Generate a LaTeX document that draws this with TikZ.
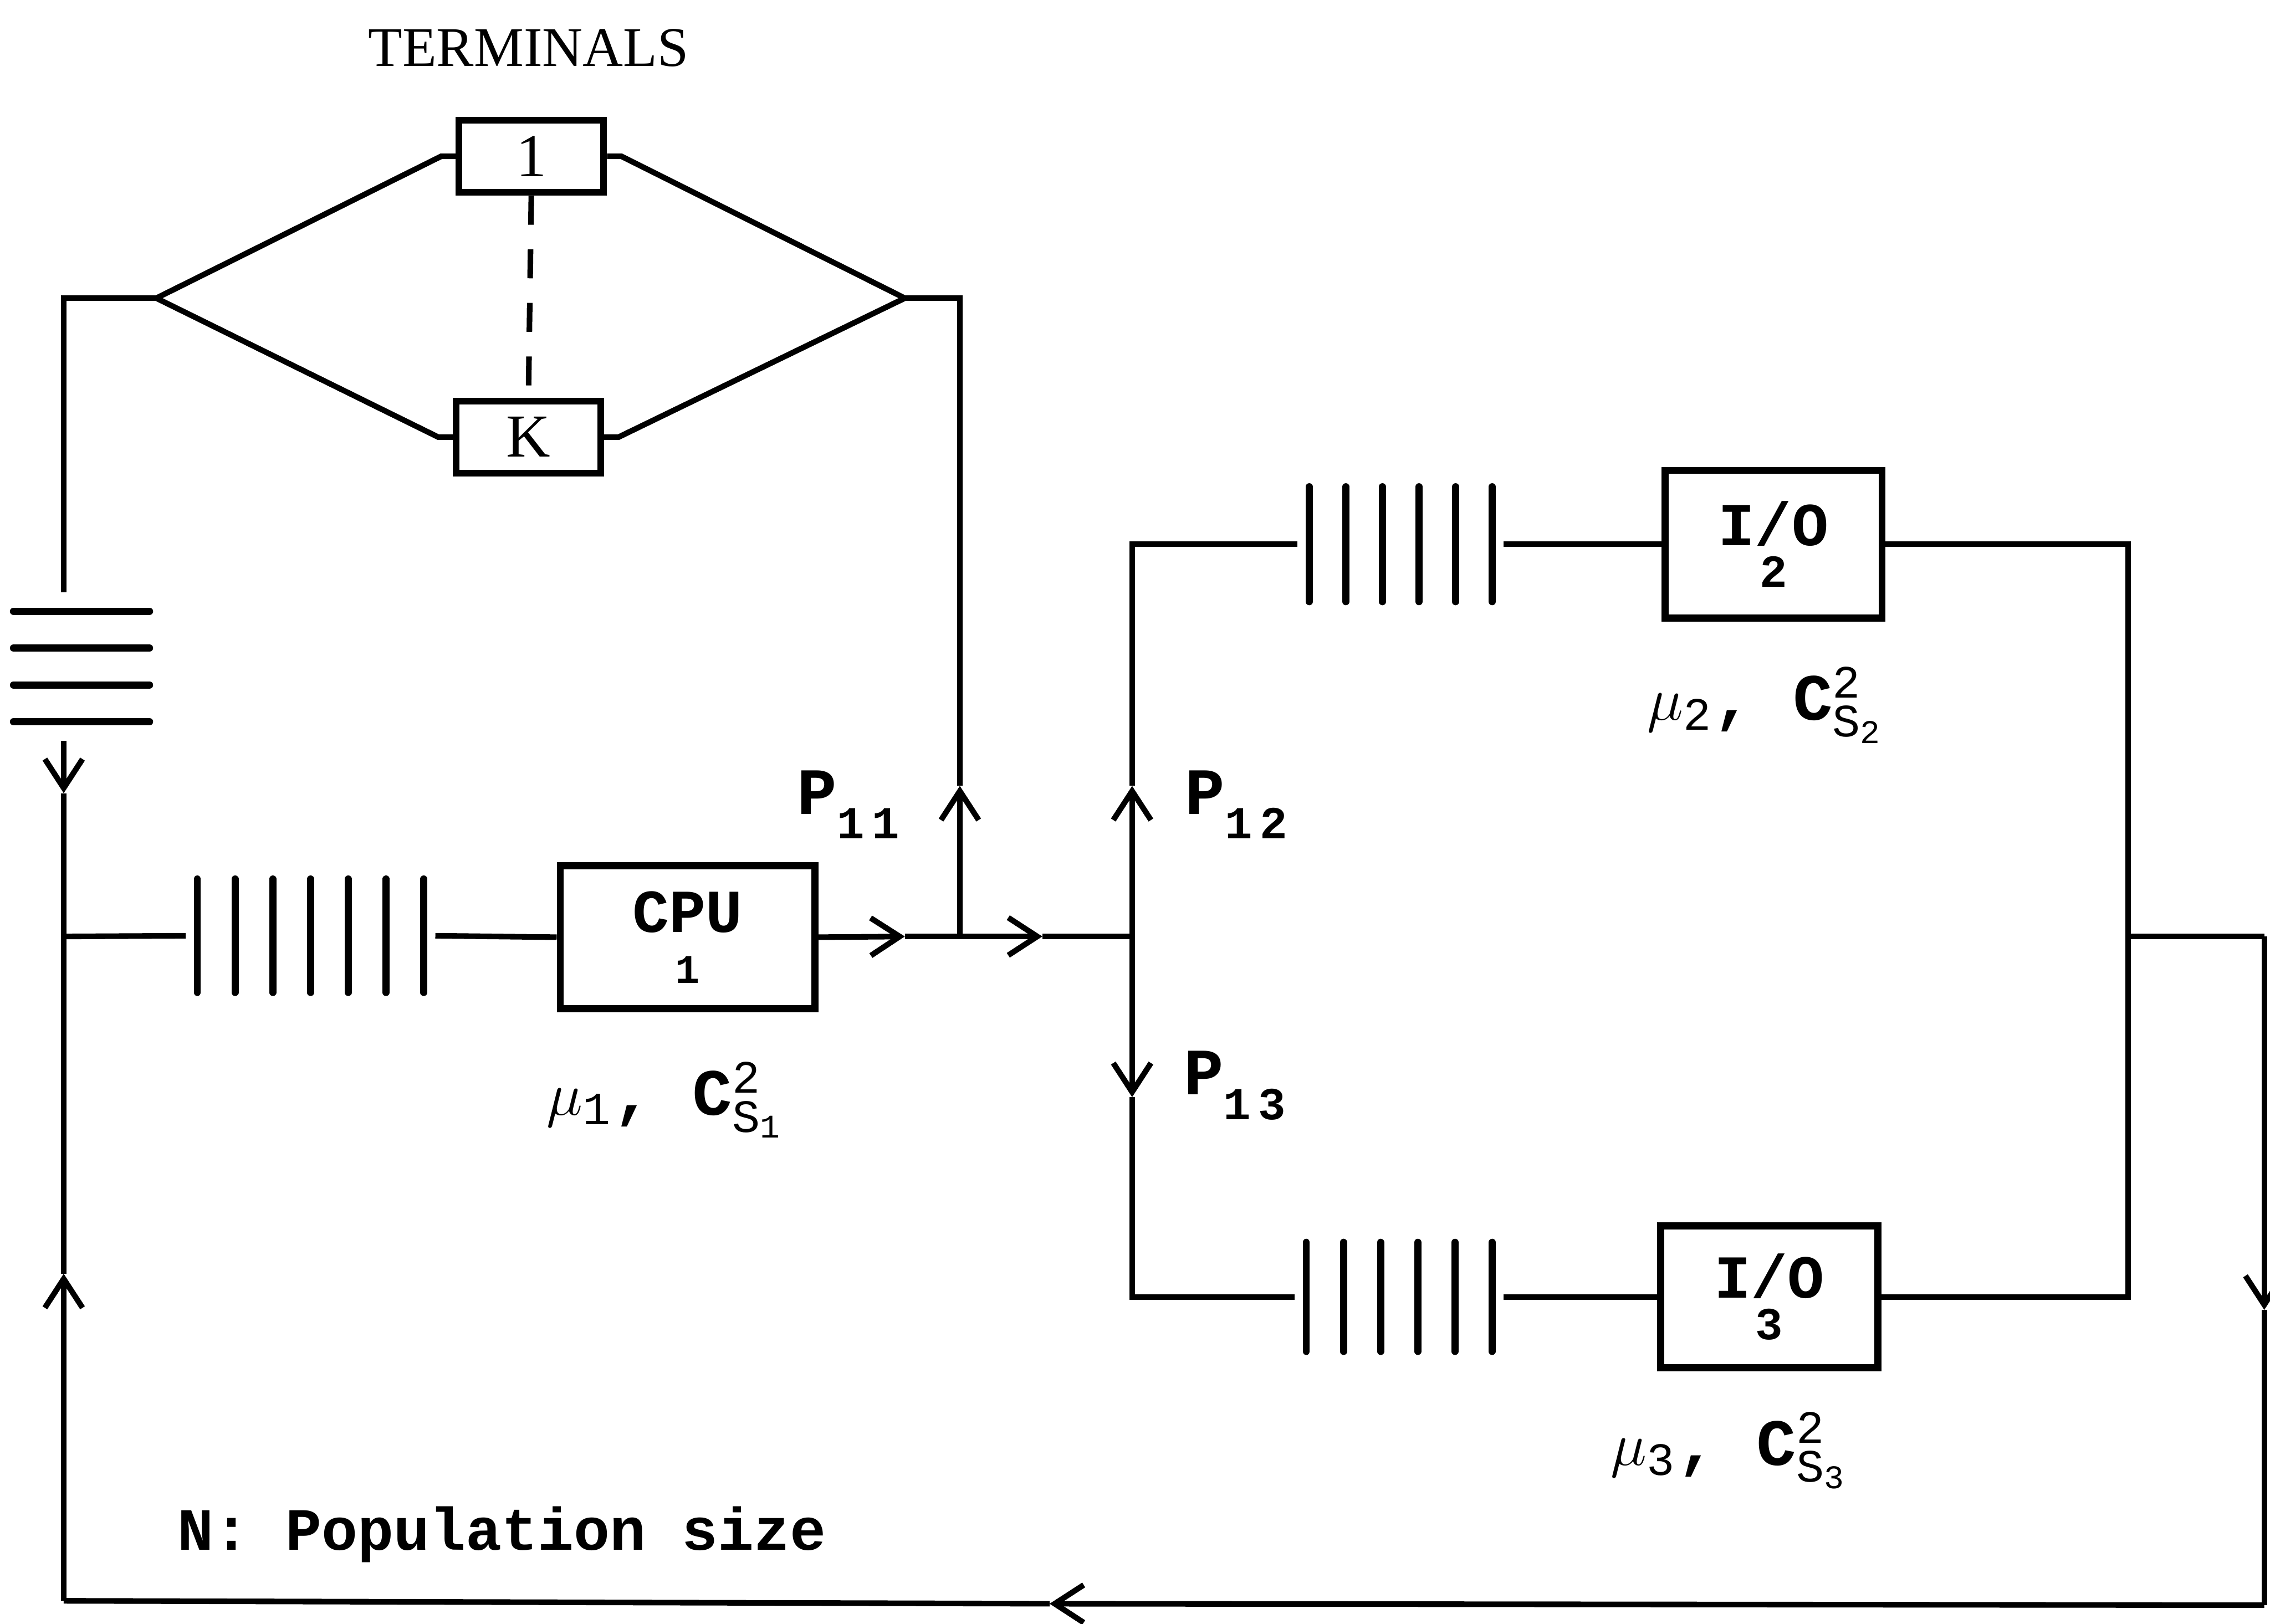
\documentclass[tikz,border=0pt]{standalone}
\usepackage{fontspec}
\setmainfont{Liberation Serif}
\setmonofont{Liberation Mono}
\usetikzlibrary{arrows.meta, calc}

\tikzset{
  wire/.style={line width=1.1pt},
  bar/.style={line width=1.4pt, line cap=round},
  flow/.style={wire, -{Straight Barb[length=2mm, width=2.6mm]}},
  term/.style={draw, line width=1.3pt, minimum width=1cm, minimum height=0.5cm,
      inner sep=0pt, font=\fontsize{12}{12}\selectfont},
  srv/.style={draw, line width=1.4pt, inner sep=0pt, align=center,
      font=\ttfamily\bfseries\fontsize{12}{12}\selectfont},
  queue/.style={inner sep=0pt},
  lbl/.style={font=\ttfamily\bfseries\fontsize{13}{13}\selectfont, inner sep=0pt},
}

% vertical bars of a waiting line: node name, number of gaps
\newcommand{\vbars}[2]{%
  \foreach \i in {0,...,#2}
    \draw[bar] ($([xshift=0.8mm]#1.north west)!\i/#2!([xshift=-0.8mm]#1.north east)$)
      -- ($([xshift=0.8mm]#1.south west)!\i/#2!([xshift=-0.8mm]#1.south east)$);}
% service rate and variation of a station
\newcommand{\rates}[1]{$\mu_{\mathtt{#1}}$, C$^{\mathtt{2}}_{\mathtt{S}_{\mathtt{#1}}}$}

\begin{document}
\begin{tikzpicture}
  \useasboundingbox (0,0) rectangle (15.68,11.22);

  % --- fixed points of the network ---
  \coordinate (L) at (1.08,9.16);
  \coordinate (R) at (6.25,9.16);
  \coordinate (m0) at (0.44,4.75);
  \coordinate (a0d) at (0.44,5.74);
  \coordinate (a0u) at (0.44,2.42);
  \coordinate (b1) at (0.44,0.16);
  \coordinate (a1) at (6.25,4.75);
  \coordinate (j1) at (6.63,4.75);
  \coordinate (a11) at (6.63,5.79);
  \coordinate (a2) at (7.20,4.75);
  \coordinate (j2) at (7.82,4.75);
  \coordinate (a12) at (7.82,5.79);
  \coordinate (a13) at (7.82,3.64);
  \coordinate (j3) at (14.70,4.75);
  \coordinate (c3) at (15.64,4.75);
  \coordinate (a3) at (15.64,2.17);
  \coordinate (c4) at (15.64,0.13);
  \coordinate (a4) at (7.25,0.14);

  % --- terminals ---
  \node[font=\fontsize{11}{11}\selectfont] (ttl) at (3.65,10.89) {TERMINALS};
  \node[term] (t1) at (3.67,10.14) {1};
  \node[term] (tK) at (3.65,8.20) {K};
  \draw[wire, dash pattern=on 2mm off 1.7mm] (t1.south) -- (tK.north);
  \draw[wire] (L) -- ([xshift=-1mm]t1.west) -- (t1.west);
  \draw[wire] (L) -- ([xshift=-1mm]tK.west) -- (tK.west);
  \draw[wire] (t1.east) -- ([xshift=1mm]t1.east) -- (R);
  \draw[wire] (tK.east) -- ([xshift=1mm]tK.east) -- (R);

  % --- think queue of the terminals ---
  \node[queue, minimum width=0.94cm, minimum height=1.01cm] (tq) at (0.57,6.615) {};
  \foreach \i in {0,...,3}
    \draw[bar] ($([yshift=-1.3mm]tq.north west)!\i/3!([yshift=1.3mm]tq.south west)$) -- ++(0.94,0);
  \draw[wire] (tq.north -| m0) |- (L);
  \draw[flow] (tq.south -| m0) -- (a0d);
  \draw[wire] (a0d) -- (m0);
  \draw[flow] (b1) -- (a0u);
  \draw[wire] (a0u) -- (m0);

  % --- CPU ---
  \node[queue, minimum width=1.71cm, minimum height=0.77cm] (q1) at (2.145,4.755) {};
  \vbars{q1}{6}
  \node[srv, minimum width=1.76cm, minimum height=0.99cm] (cpu) at (4.75,4.745)
    {CPU\\[-2pt]{\fontsize{8}{8}\selectfont 1}};
  \node[lbl] (mu1) at (4.60,3.62) {\rates{1}};
  \draw[wire] (m0) -- (q1.west);
  \draw[wire] (q1.east) -- (cpu.west);
  \draw[flow] (cpu.east) -- (a1);
  \draw[wire] (a1) -- (j1);
  \draw[flow] (j1) -- (a11);
  \draw[wire] (a11) |- (R);
  \draw[flow] (j1) -- (a2);
  \draw[wire] (a2) -- (j2);
  \node[lbl, anchor=west] (p11) at (5.50,5.66) {P\raisebox{-0.7ex}{\fontsize{9}{9}\selectfont 1\,1}};

  % --- I/O 2 ---
  \node[queue, minimum width=1.41cm, minimum height=0.78cm] (q2) at (9.675,7.46) {};
  \vbars{q2}{5}
  \node[srv, minimum width=1.50cm, minimum height=1.02cm] (io2) at (12.25,7.46)
    {I/\llap{\makebox[0.6em]{\raisebox{-1.3ex}{\fontsize{9}{9}\selectfont 2}}}O};
  \node[lbl] (mu2) at (12.20,6.35) {\rates{2}};
  \draw[flow] (j2) -- (a12);
  \draw[wire] (a12) |- (q2.west);
  \draw[wire] (q2.east) -- (io2.west);
  \draw[wire] (io2.east) -| (j3);
  \node[lbl, anchor=west] (p12) at (8.18,5.66) {P\raisebox{-0.7ex}{\fontsize{9}{9}\selectfont 1\,2}};

  % --- I/O 3 ---
  \node[queue, minimum width=1.43cm, minimum height=0.74cm] (q3) at (9.665,2.26) {};
  \vbars{q3}{5}
  \node[srv, minimum width=1.50cm, minimum height=0.98cm] (io3) at (12.22,2.26)
    {I/\llap{\makebox[0.6em]{\raisebox{-1.3ex}{\fontsize{9}{9}\selectfont 3}}}O};
  \node[lbl] (mu3) at (11.95,1.20) {\rates{3}};
  \draw[flow] (j2) -- (a13);
  \draw[wire] (a13) |- (q3.west);
  \draw[wire] (q3.east) -- (io3.west);
  \draw[wire] (io3.east) -| (j3);
  \node[lbl, anchor=west] (p13) at (8.17,3.72) {P\raisebox{-0.7ex}{\fontsize{9}{9}\selectfont 1\,3}};

  % --- return path ---
  \draw[wire] (j3) -- (c3);
  \draw[flow] (c3) -- (a3);
  \draw[wire] (a3) -- (c4);
  \draw[flow] (c4) -- (a4);
  \draw[wire] (a4) -- (b1);

  \node[lbl, anchor=west, font=\ttfamily\bfseries\fontsize{11.8}{12}\selectfont] (pop) at (1.22,0.62) {N: Population size};
\end{tikzpicture}
\end{document}
